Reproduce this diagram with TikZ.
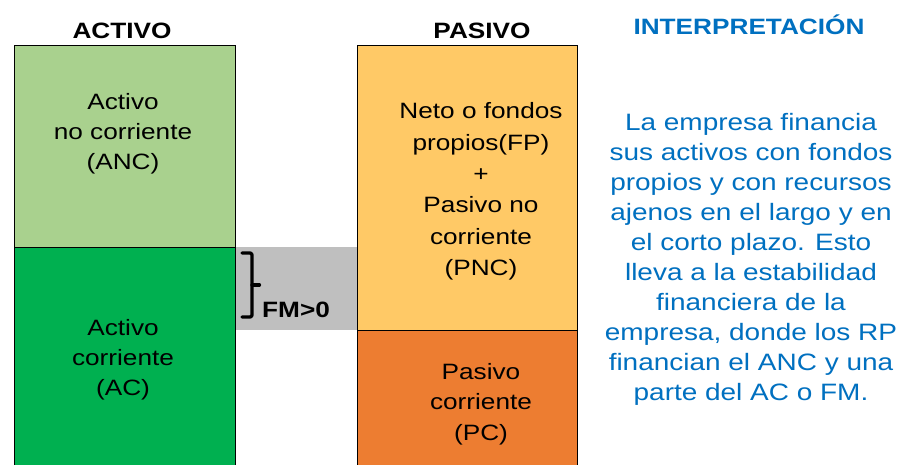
\documentclass[tikz,border=0pt]{standalone}
\usepackage{fontspec}
\setmainfont{Liberation Sans}[FakeStretch=1.18]
\definecolor{ancgreen}{HTML}{A9D18E}
\definecolor{acgreen}{HTML}{00B050}
\definecolor{fpgold}{HTML}{FFC966}
\definecolor{pcorange}{HTML}{ED7D31}
\definecolor{fmgrey}{HTML}{BFBFBF}
\definecolor{interblue}{HTML}{0070C0}
\tikzset{
  boxline/.style={draw=black, line width=0.9pt},
  blocktext/.style={align=center, inner sep=0pt, font=\fontsize{22.2}{30}\selectfont},
  headtext/.style={inner sep=0pt, anchor=base, font=\bfseries\fontsize{22.2}{26}\selectfont},
  bluetext/.style={align=center, inner sep=0pt, text=interblue, font=\fontsize{23.7}{30}\selectfont},
  bracestyle/.style={line width=3.2pt, line cap=round, line join=round, rounded corners=1.5pt}
}
\begin{document}
\begin{tikzpicture}[x=1pt,y=-1pt]
\clip (0,0) rectangle (898,465);
\fill[white] (0,0) rectangle (898,465);
% grey FM band
\fill[fmgrey] (235,247) rectangle (357,330.5);
% left boxes
\draw[boxline, fill=ancgreen] (14,45) rectangle (235,247);
\draw[boxline, fill=acgreen] (14,247) rectangle (235,480);
% right boxes
\draw[boxline, fill=fpgold] (357,45) rectangle (577,330.5);
\draw[boxline, fill=pcorange] (357,330.5) rectangle (577,480);
% headings
\node[headtext] (hact) at (122,38.5) {ACTIVO};
\node[headtext] (hpas) at (482,38.5) {PASIVO};
\node[headtext, text=interblue] (hint) at (749,34.5) {INTERPRETACIÓN};
% block texts
\node[blocktext] (anc) at (123,134) {Activo\\no corriente\\(ANC)};
\node[blocktext] (ac) at (123,360) {Activo\\corriente\\(AC)};
\node[blocktext, font=\fontsize{22.2}{31.4}\selectfont] (fp) at (481,191.5) {Neto o fondos\\propios(FP)\\+\\Pasivo no\\corriente\\(PNC)};
\node[blocktext, font=\fontsize{22.2}{30.5}\selectfont] (pc) at (481,404) {Pasivo\\corriente\\(PC)};
% brace
\coordinate (bt) at (242,253);
\coordinate (bb) at (242,317);
\coordinate (btip) at (259.5,285);
\draw[bracestyle] (bt) -- (252,253) -- (252,317) -- (bb);
\draw[bracestyle, rounded corners=0pt] (252,285) -- (btip);
\node[headtext, anchor=base west] (fm) at (262,318) {FM>0};
% interpretation text
\node[bluetext] (interp) at (751,259) {La empresa financia\\sus activos con fondos\\propios y con recursos\\ajenos en el largo y en\\el corto plazo. Esto\\lleva a la estabilidad\\financiera de la\\empresa, donde los RP\\financian el ANC y una\\parte del AC o FM.};
\end{tikzpicture}
\end{document}
